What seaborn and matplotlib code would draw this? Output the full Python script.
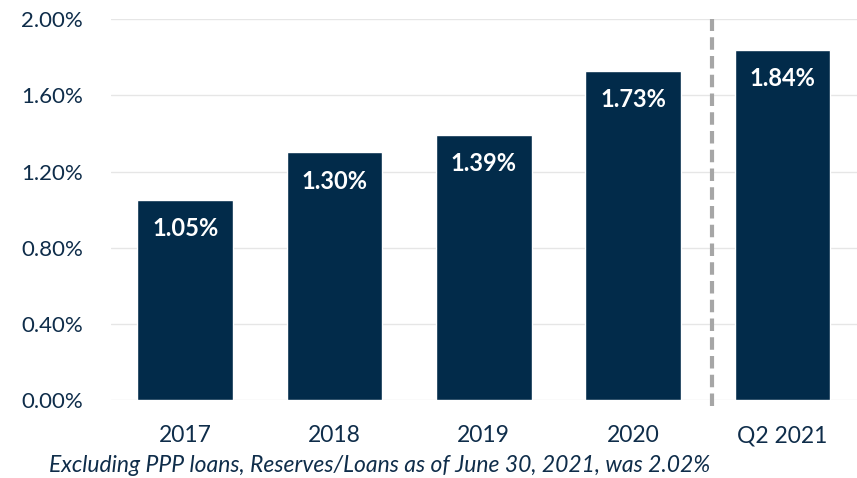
import matplotlib
matplotlib.use("Agg")
import matplotlib.pyplot as plt
import seaborn as sns
import pandas as pd
from matplotlib.ticker import FuncFormatter, MultipleLocator

categories = ["2017", "2018", "2019", "2020", "Q2 2021"]
values = [1.05, 1.30, 1.39, 1.73, 1.84]
labels = ["1.05%", "1.30%", "1.39%", "1.73%", "1.84%"]
footnote = "Excluding PPP loans, Reserves/Loans as of June 30, 2021, was 2.02%"

sns.set_theme(style="white")
plt.rcParams["font.family"] = ["Lato", "DejaVu Sans"]

navy = "#022B4A"
text_c = "#0F2D4A"

df = pd.DataFrame({"cat": categories, "val": values})

fig = plt.figure(figsize=(8.57, 4.78), dpi=100)
ax = fig.add_axes([0.129, 0.163, 0.871, 0.797])
sns.barplot(data=df, x="cat", y="val", color=navy, saturation=1, width=0.64, ax=ax, zorder=3)

ax.set_ylim(0, 2.0)
ax.set_xlim(-0.5, 4.5)
ax.yaxis.set_major_locator(MultipleLocator(0.4))
ax.yaxis.set_major_formatter(FuncFormatter(lambda v, p: f"{v:.2f}%"))
ax.grid(axis="y", color="#E6E6E6", linewidth=1, zorder=0)
ax.grid(axis="x", visible=False)
for s in ax.spines.values():
    s.set_visible(False)
ax.set_xlabel("")
ax.set_ylabel("")
ax.tick_params(axis="both", length=0, colors=text_c)
ax.tick_params(axis="x", pad=18, labelsize=16.5)
ax.tick_params(axis="y", pad=20, labelsize=16)

for i, (v, lab) in enumerate(zip(values, labels)):
    ax.text(i, v - 0.15, lab, ha="center", va="center", color="white",
            fontsize=17, fontweight="bold", zorder=4)

ax.axvline(3.53, ymin=-0.015, ymax=1.0, color="#A6A6A6", linestyle=(0, (3, 1.5)),
           linewidth=3, zorder=5, clip_on=False)

fig.text(0.443, 0.027, footnote, ha="center", va="center", color=text_c,
         fontsize=16.5, fontstyle="italic")

fig.savefig("out.png", dpi=100)
